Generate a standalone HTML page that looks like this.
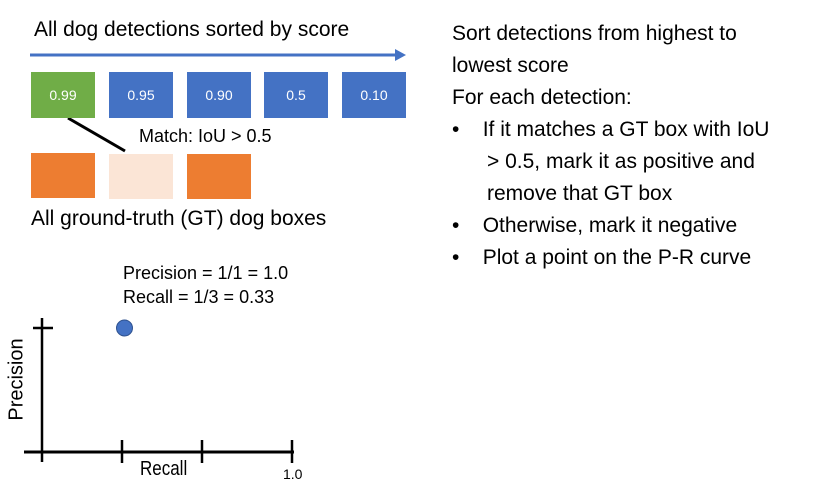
<!DOCTYPE html>
<html><head><meta charset="utf-8"><style>
body{margin:0;width:823px;height:485px;background:#fff;overflow:hidden;position:relative;font-family:"Liberation Sans",sans-serif}
.t{position:absolute;white-space:nowrap;color:#000}
.box{position:absolute;width:64px;height:46px;color:#fff;font-size:14px;display:flex;align-items:center;justify-content:center}
</style></head><body>
<div class="t" style="left:34px;top:18px;font-size:21px">All dog detections sorted by score</div>
<svg style="position:absolute;left:0;top:0" width="823" height="485">
<line x1="30" y1="55" x2="398" y2="55" stroke="#4472C4" stroke-width="3"/>
<polygon points="395,49 406,55 395,61" fill="#4472C4"/>
<line x1="68" y1="118" x2="125" y2="151" stroke="#000" stroke-width="3"/>
</svg>
<div class="box" style="left:31px;top:72px;background:#70AD47">0.99</div>
<div class="box" style="left:109px;top:72px;background:#4472C4">0.95</div>
<div class="box" style="left:187px;top:72px;background:#4472C4">0.90</div>
<div class="box" style="left:264px;top:72px;background:#4472C4">0.5</div>
<div class="box" style="left:342px;top:72px;background:#4472C4">0.10</div>
<div class="t" style="left:139px;top:126px;font-size:18px">Match: IoU &gt; 0.5</div>
<div class="box" style="left:31px;top:153px;height:45px;background:#ED7D31"></div>
<div class="box" style="left:109px;top:154px;height:45px;background:#FBE5D6"></div>
<div class="box" style="left:187px;top:154px;height:45px;background:#ED7D31"></div>
<div class="t" style="left:31px;top:207px;font-size:21px">All ground-truth (GT) dog boxes</div>
<div class="t" style="left:452px;top:18px;font-size:21px;line-height:32px">Sort detections from highest to<br>lowest score<br>For each detection:</div>
<div class="t" style="left:452px;top:114px;font-size:21px;line-height:32px">
<div>•&nbsp;&nbsp;&nbsp;&nbsp;If it matches a GT box with IoU</div>
<div style="padding-left:35px">&gt; 0.5, mark it as positive and</div>
<div style="padding-left:35px">remove that GT box</div>
<div>•&nbsp;&nbsp;&nbsp;&nbsp;Otherwise, mark it negative</div>
<div>•&nbsp;&nbsp;&nbsp;&nbsp;Plot a point on the P-R curve</div>
</div>
<div class="t" style="left:123px;top:261px;font-size:18px;line-height:24px">Precision = 1/1 = 1.0<br>Recall = 1/3 = 0.33</div>
<svg id="pr" style="position:absolute;left:0;top:0" width="823" height="485"></svg>
<div class="t" style="left:-28px;top:368px;font-size:20px;transform:rotate(-90deg);width:90px;text-align:center">Precision</div>
<div class="t" style="left:140px;top:458px;font-size:20px;transform:scaleX(0.85);transform-origin:left">Recall</div>
<div class="t" style="left:283px;top:466px;font-size:14px">1.0</div>
<script>
const recall=[0.33];
const precision=[1.0];
const xTicks=[0,0.32,0.64,1.0];
const svg=document.getElementById('pr');
const X=v=>42+v*(292-42);
const Y=v=>452-v*(452-328);
function mk(t,a){const e=document.createElementNS('http://www.w3.org/2000/svg',t);for(const k in a)e.setAttribute(k,a[k]);svg.appendChild(e);return e;}
let e=mk('line',{x1:42,y1:318,x2:42,y2:462,stroke:'#000','stroke-width':2.5});


e=mk('line',{x1:24,y1:452,x2:294,y2:452,stroke:'#000','stroke-width':3});


e=mk('line',{x1:33,y1:Y(1),x2:53,y2:Y(1),stroke:'#000','stroke-width':2.5});


xTicks.slice(1).forEach(t=>{const l=mk('line',{x1:X(t),y1:440,x2:X(t),y2:463,stroke:'#000','stroke-width':2.5});

});
recall.forEach((r,i)=>{const c=mk('circle',{cx:X(r),cy:Y(precision[i]),r:8,fill:'#4472C4',stroke:'#2F528F','stroke-width':1});

});
</script>
</body></html>
